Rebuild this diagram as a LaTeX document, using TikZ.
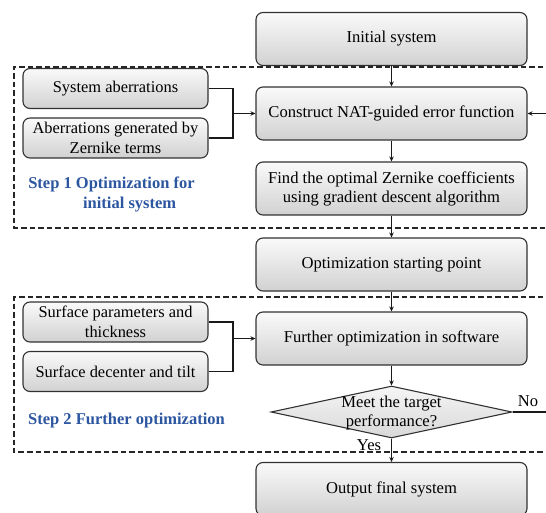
\documentclass[tikz,border=0pt]{standalone}
\usepackage{fontspec}
\setmainfont{Liberation Serif}
\usetikzlibrary{shapes.geometric,arrows.meta}
\definecolor{stepblue}{RGB}{44,86,160}
\definecolor{edge}{RGB}{50,50,50}
\tikzset{
  box/.style={draw=edge, line width=1.1pt, rounded corners=7pt, top color=black!2, bottom color=black!18,
    minimum width=271pt, minimum height=53pt, align=center, font=\fontsize{16.6}{19}\selectfont, inner sep=0pt},
  sbox/.style={draw=edge, line width=1.1pt, rounded corners=7pt, top color=black!2, bottom color=black!18,
    minimum width=185pt, minimum height=40pt, align=center, font=\fontsize{16.4}{19.5}\selectfont, inner sep=0pt},
  dbox/.style={draw=black!85, line width=1.1pt, dash pattern=on 5.5pt off 3pt},
  conn/.style={draw=black!90, line width=1.1pt},
  arr/.style={conn, -{Stealth[length=5pt,width=4.5pt]}},
  steplabel/.style={text=stepblue, font=\bfseries\fontsize{16.5}{19.5}\selectfont, align=center, inner sep=0pt},
  lbl/.style={font=\fontsize{16.6}{19}\selectfont, inner sep=0pt},
}
\begin{document}
\begin{tikzpicture}[x=1pt,y=-1pt]
\useasboundingbox (0,0) rectangle (546,513);
\clip (0,0) rectangle (546,513);
% dashed group frames
\draw[dbox] (560,67) -- (14,67) -- (14,228) -- (560,228);
\draw[dbox] (560,297) -- (14,297) -- (14,452) -- (560,452);
% main column
\node[box] (init) at (391.5,39) {Initial system};
\node[box] (cons) at (391.5,113.5) {Construct NAT-guided error function};
\node[box] (find) at (391.5,188.5) {Find the optimal Zernike coefficients\\using gradient descent algorithm};
\node[box] (start) at (391.5,264.5) {Optimization starting point};
\node[box] (further) at (391.5,338.5) {Further optimization in software};
\node[diamond, draw=edge, line width=1.1pt, top color=black!4, bottom color=black!15, aspect=4.6,
  minimum width=241pt, minimum height=52pt, inner sep=0pt] (dec) at (391.5,412) {};
\node[lbl, align=center] (dectext) at (391.5,413) {Meet the target\\performance?};
\node[box] (out) at (391.5,489) {Output final system};
% side boxes
\node[sbox] (sa) at (115.5,88.5) {System aberrations};
\node[sbox] (ab) at (115.5,138) {Aberrations generated by\\Zernike terms};
\node[sbox] (sp) at (115.5,322) {Surface parameters and\\thickness};
\node[sbox] (sd) at (115.5,371.5) {Surface decenter and tilt};
% step labels
\node[steplabel] (s1) at (111.5,194.5) {Step 1 Optimization for\\\hspace*{2.2em}initial system};
\node[steplabel, anchor=west] (s2) at (28,421) {Step 2 Further optimization};
% junctions
\coordinate (j1) at (233,113.5);
\coordinate (j2) at (233,338.5);
\coordinate (rin) at (546,113.5);
\coordinate (rout) at (546,412);
% connectors
\draw[arr] (init) -- (cons);
\draw[arr] (cons) -- (find);
\draw[arr] (find) -- (start);
\draw[arr] (start) -- (further);
\draw[arr] (further) -- (dec.north);
\draw[arr] (dec.south) -- (out);
\draw[conn] (sa.east) -| (j1);
\draw[conn] (ab.east) -| (j1);
\draw[arr] (j1) -- (cons.west);
\draw[conn] (sp.east) -| (j2);
\draw[conn] (sd.east) -| (j2);
\draw[arr] (j2) -- (further.west);
\draw[arr] (rin) -- (cons.east);
\draw[conn] (dec.east) -- (rout);
\node[lbl] (no) at (528,401) {No};
\node[lbl] (yes) at (369,445.5) {Yes};
\end{tikzpicture}
\end{document}
